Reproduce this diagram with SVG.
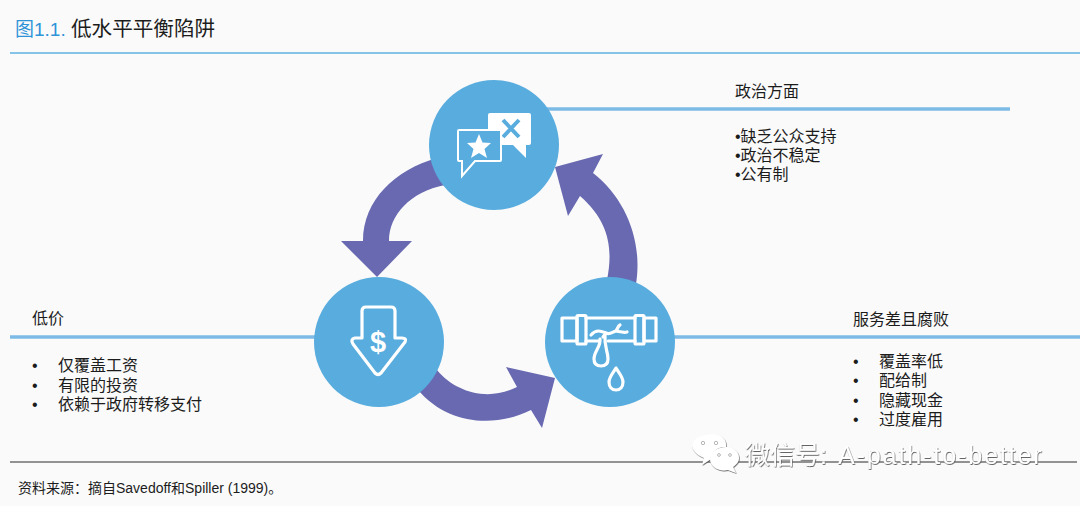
<svg xmlns="http://www.w3.org/2000/svg" width="1080" height="506" viewBox="0 0 1080 506">
<style>
text{font-family:"Liberation Sans","Noto Sans CJK SC",sans-serif;fill:#1c1c1c;font-size:16px}
.title{font-size:20.6px}
.blue{fill:#2f93d8;font-size:19px}
.foot{font-size:14px}
.lead{stroke:#7dbbe6;stroke-width:3.5;fill:none}
.arrow{fill:#6869b1}
.disc{fill:#58acde}
.ic{fill:none;stroke:#fff;stroke-width:3.200;stroke-linejoin:round;stroke-linecap:round}
.wm{fill:#fff;filter:url(#wmShadow)}
.eye{fill:#fff;stroke:#888;stroke-width:.6}
</style>
<defs>
<filter id="wmShadow" x="-5%" y="-20%" width="110%" height="140%">
<feDropShadow dx="0.6" dy="0.9" stdDeviation="0.35" flood-color="#555"/>
</filter>
</defs>
<rect width="1080" height="506" fill="#fafafa"/>
<g id="header">
<text class="blue" x="15" y="36">图1.1.</text>
<text class="title" x="71" y="36">低水平平衡陷阱</text>
<line x1="10" y1="53" x2="1080" y2="53" stroke="#5fb0e2" stroke-width="1.5"/>
</g>
<g id="connectors">
<line class="lead" x1="540" y1="109" x2="1010" y2="109"/>
<line class="lead" x1="10" y1="337" x2="320" y2="337"/>
<line class="lead" x1="670" y1="337" x2="1080" y2="337"/>
<path class="arrow" d="M437 158C395 170 363 200 363 241L341 241L377 277L412 241L389 241C389 215 410 192 445 185Z"/>
<path class="arrow" d="M607 280C613 250 610 222 580 196L568 216L555 167L603 154L593 173C625 198 643 240 636 284Z"/>
<path class="arrow" d="M437 370C455 392 488 402 517 387L506 367L555 378L542 428L531 410C495 428 448 425 418 390Z"/>
</g>
<g id="node-politics">
<circle class="disc" cx="494" cy="145" r="65"/>
<path fill="#fff" d="M490 113H529Q531 113 531 115V143Q531 145 529 145H526V158L513 145H490Q488 145 488 143V115Q488 113 490 113Z"/>
<path d="M503 120L519 137M519 120L503 137" stroke="#58acde" stroke-width="4" fill="none"/>
<path fill="#58acde" stroke="#fff" stroke-width="2" d="M459 130H500Q501 130 501 131V160Q501 161 500 161H475L462 176V161H459Q458 161 458 160V131Q458 130 459 130Z"/>
<polygon fill="#fff" points="479,134 482.500,142.500 491,143 484.500,149 487,158 479,153 471,158 473.500,149 467,143 475.500,142.500"/>
<text x="735" y="97">政治方面</text>
<text x="735" y="142">•缺乏公众支持</text>
<text x="735" y="161">•政治不稳定</text>
<text x="735" y="180">•公有制</text>
</g>
<g id="node-price">
<circle class="disc" cx="379" cy="342" r="65"/>
<path class="ic" d="M366 307H391Q395 307 395 311V338H402Q407 338 405 342L381 373Q378 376 375 373L353 344Q350 339 355 338H362V311Q362 307 366 307Z"/>
<text x="378" y="352" text-anchor="middle" style="fill:#fff;font-size:29px;font-weight:700">$</text>
<text x="32" y="324">低价</text>
<text x="32" y="371">•</text><text x="58" y="371">仅覆盖工资</text>
<text x="32" y="391">•</text><text x="58" y="391">有限的投资</text>
<text x="32" y="410">•</text><text x="58" y="410">依赖于政府转移支付</text>
</g>
<g id="node-service">
<circle class="disc" cx="610" cy="342" r="65"/>
<rect class="ic" x="562" y="318" width="15" height="23"/>
<rect class="ic" x="577" y="315.500" width="9" height="28.500" rx="1"/>
<path class="ic" d="M586 318H635M586 341H599M608 341H635"/>
<rect class="ic" x="635" y="315.500" width="9" height="28.500" rx="1"/>
<rect class="ic" x="644" y="318" width="12" height="23"/>
<path class="ic" d="M591 335C596 329 601 331 606 333C610 335 612 332 616 331C621 332 624 333 627 332M616 331C618 328 618 326 620 325M606 333L603 337"/>
<path class="ic" d="M600 339C601 347 594 351 594 359C594 364 597 366 601 366C605 366 608 364 608 359C608 351 604 347 605 335"/>
<path class="ic" d="M616 368C613 373 609 377 609 382C609 387 612 390 616 390C620 390 623 387 623 382C623 377 619 373 616 368Z"/>
<text x="853" y="325">服务差且腐败</text>
<text x="853" y="367">•</text><text x="879" y="367">覆盖率低</text>
<text x="853" y="386">•</text><text x="879" y="386">配给制</text>
<text x="853" y="406">•</text><text x="879" y="406">隐藏现金</text>
<text x="853" y="425">•</text><text x="879" y="425">过度雇用</text>
</g>
<g id="footer">
<line x1="10" y1="462" x2="1077" y2="462" stroke="#6f6f6f" stroke-width="1.300"/>
<text class="foot" x="18" y="493">资料来源&#xFF1A;摘自Savedoff和Spiller (1999)。</text>
</g>
<g id="watermark">
<path class="wm" d="M712 434C722 434 727 440 726 447C718 446 711 452 711 459L702 465L704 458C697 455 692 450 692 445C692 439 701 434 712 434Z"/>
<path class="wm" d="M726 447C735 447 739 453 739 458C739 462 736 465 733 467L736 473L728 470C718 472 710 466 710 459C710 452 717 447 726 447Z"/>
<circle class="eye" cx="703" cy="443" r="1.700"/><circle class="eye" cx="716" cy="443" r="1.700"/>
<circle class="eye" cx="719" cy="455" r="1.400"/><circle class="eye" cx="730" cy="455" r="1.400"/>
<text class="wm" x="745" y="464" style="font-size:25px">微信号:<tspan x="838" letter-spacing="1.900">A-path-to-better</tspan></text>
</g>
</svg>
